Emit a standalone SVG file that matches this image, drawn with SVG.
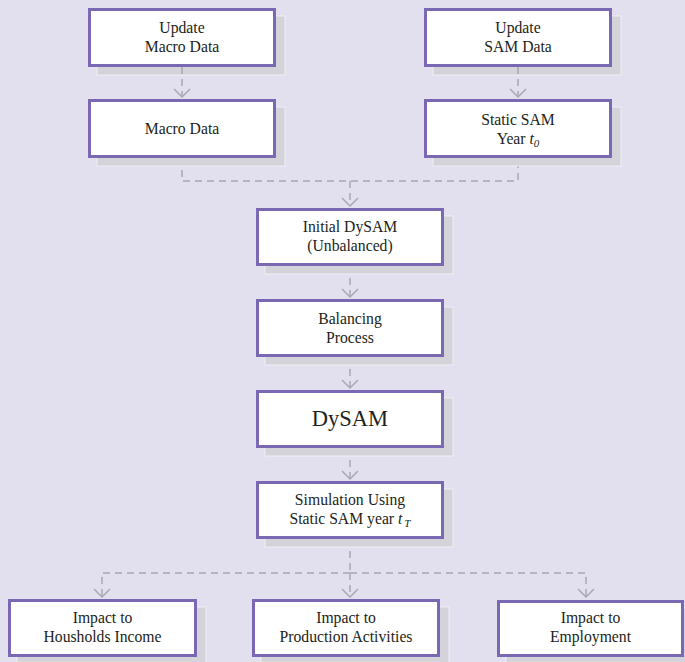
<svg xmlns="http://www.w3.org/2000/svg" width="685" height="662" viewBox="0 0 685 662">
<style>
.bg{fill:#E2E0EF}
.sh{fill:#D3D3D9;stroke:#EEEEF5;stroke-width:1}
.bx{fill:#FFFFFF;stroke:#7A68B2;stroke-width:3}
.t{font-family:"Liberation Serif","Times New Roman",serif;font-size:15.7px;fill:#231F20;text-anchor:middle}
.big{font-size:22.5px}
.c{fill:none;stroke:#A9A7B2;stroke-width:1.5;stroke-dasharray:7 5}
</style>
<defs>
<marker id="arr" viewBox="-10 -10 12 20" refX="0" refY="0" markerWidth="12" markerHeight="20" markerUnits="userSpaceOnUse" orient="auto">
<path d="M-8,-8 L0,0 L-8,8" fill="none" stroke="#A9A7B2" stroke-width="1.5" stroke-dasharray="none"/>
</marker>
</defs>
<rect class="bg" x="0" y="0" width="685" height="662"/>

<g id="n1"><rect class="sh" x="97" y="16" width="188" height="59"/><rect class="bx" x="89.5" y="9.5" width="185" height="56"/>
<text class="t" x="182" y="33">Update</text><text class="t" x="182" y="52">Macro Data</text></g>

<g id="n3"><rect class="sh" x="433" y="16" width="188" height="59"/><rect class="bx" x="425.5" y="9.5" width="185" height="56"/>
<text class="t" x="518" y="33">Update</text><text class="t" x="518" y="52">SAM Data</text></g>

<g id="connectors">
<path class="c" d="M182,67 V97" marker-end="url(#arr)"/>
<path class="c" d="M518,67 V97" marker-end="url(#arr)"/>
<path class="c" d="M182,158 V181 H518 V158"/>
<path class="c" d="M350,181 V206" marker-end="url(#arr)"/>
<path class="c" d="M350,266 V297" marker-end="url(#arr)"/>
<path class="c" d="M350,357 V388" marker-end="url(#arr)"/>
<path class="c" d="M350,448 V479" marker-end="url(#arr)"/>
<path class="c" d="M350,539 V573"/>
<path class="c" d="M350,573 H102 V597" marker-end="url(#arr)"/>
<path class="c" d="M350,573 H586 V597" marker-end="url(#arr)"/>
<path class="c" d="M350,573 V597" marker-end="url(#arr)"/>
</g>

<g id="n2"><rect class="sh" x="97" y="107" width="188" height="59"/><rect class="bx" x="89.5" y="100.5" width="185" height="56"/>
<text class="t" x="182" y="133.5">Macro Data</text></g>

<g id="n4"><rect class="sh" x="433" y="107" width="188" height="59"/><rect class="bx" x="425.5" y="100.5" width="185" height="56"/>
<text class="t" x="518" y="124.5">Static SAM</text><text class="t" x="518" y="143.5">Year <tspan font-style="italic">t</tspan><tspan font-style="italic" font-size="11" dy="3">0</tspan></text></g>

<g id="n5"><rect class="sh" x="265" y="216" width="188" height="58"/><rect class="bx" x="257.5" y="209.5" width="185" height="55"/>
<text class="t" x="350" y="232">Initial DySAM</text><text class="t" x="350" y="251">(Unbalanced)</text></g>

<g id="n6"><rect class="sh" x="265" y="307" width="188" height="58"/><rect class="bx" x="257.5" y="300.5" width="185" height="55"/>
<text class="t" x="350" y="323.5">Balancing</text><text class="t" x="350" y="342.5">Process</text></g>

<g id="n7"><rect class="sh" x="265" y="398" width="188" height="58"/><rect class="bx" x="257.5" y="391.5" width="185" height="55"/>
<text class="t big" x="350" y="426">DySAM</text></g>

<g id="n8"><rect class="sh" x="265" y="489" width="188" height="58"/><rect class="bx" x="257.5" y="482.5" width="185" height="55"/>
<text class="t" x="350" y="504.5">Simulation Using</text><text class="t" x="350" y="523.5">Static SAM year <tspan font-style="italic">t</tspan><tspan font-style="italic" font-size="11" dx="2" dy="3">T</tspan></text></g>

<g id="n9"><rect class="sh" x="17" y="607" width="189" height="58"/><rect class="bx" x="9.5" y="600.5" width="186" height="55"/>
<text class="t" x="102.5" y="622.7">Impact to</text><text class="t" x="102.5" y="641.7">Housholds Income</text></g>

<g id="n10"><rect class="sh" x="261" y="607" width="188" height="58"/><rect class="bx" x="253.5" y="600.5" width="185" height="55"/>
<text class="t" x="346" y="622.7">Impact to</text><text class="t" x="346" y="641.7">Production Activities</text></g>

<g id="n11"><rect class="sh" x="506" y="608" width="188" height="58"/><rect class="bx" x="498.5" y="601.5" width="184" height="54"/>
<text class="t" x="590.5" y="622.7">Impact to</text><text class="t" x="590.5" y="641.7">Employment</text></g>
</svg>
